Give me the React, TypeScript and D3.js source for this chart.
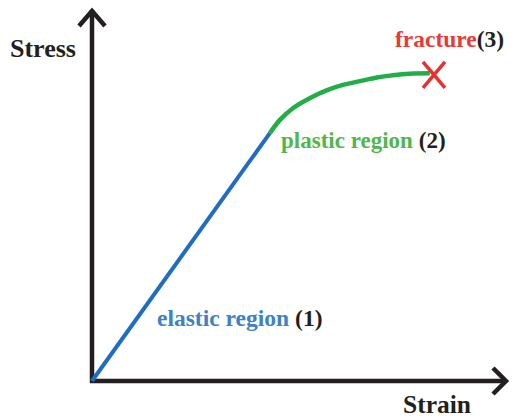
import React from "react";
import * as d3 from "d3";

// Stress–strain curve (normalised units, 0..1 on each axis)
const elasticStrain = [0, 0.43];
const elasticStress = [0, 0.667];
const plasticStrain = [0.43, 0.454, 0.486, 0.527, 0.568, 0.606, 0.647, 0.688, 0.727, 0.768, 0.816];
const plasticStress = [0.667, 0.702, 0.734, 0.761, 0.782, 0.796, 0.806, 0.816, 0.822, 0.826, 0.827];
const fracturePoint = [0.826, 0.823];
const axisLabels = ["Stress", "Strain"];
const regionLabels = ["elastic region", "plastic region", "fracture"];
const regionNumbers = ["(1)", "(2)", "(3)"];

const W = 512;
const H = 418;

export default function App() {
  const x = d3.scaleLinear().domain([0, 1]).range([92, 506]);
  const y = d3.scaleLinear().domain([0, 1]).range([381, 9]);

  const line = d3
    .line<[number, number]>()
    .x((d) => x(d[0]))
    .y((d) => y(d[1]));
  const curve = d3
    .line<[number, number]>()
    .x((d) => x(d[0]))
    .y((d) => y(d[1]))
    .curve(d3.curveCatmullRom.alpha(0.5));

  const elastic: [number, number][] = elasticStrain.map((s, i) => [s, elasticStress[i]]);
  const plastic: [number, number][] = plasticStrain.map((s, i) => [s, plasticStress[i]]);

  const ox = x(0);
  const oy = y(0);
  const yTop = y(1);
  const xEnd = x(1);
  const fx = x(fracturePoint[0]);
  const fy = y(fracturePoint[1]);
  const axisColor = "#231f20";
  const font = "'Liberation Serif', 'Times New Roman', serif";

  return (
    <svg
      width={W}
      height={H}
      style={{ position: "absolute", left: 0, top: 0, background: "#fff" }}
    >
      {/* axes */}
      <g stroke={axisColor} strokeWidth={4.5} fill="none">
        <line x1={ox} y1={oy + 2} x2={ox} y2={yTop + 1} />
        <line x1={ox - 2} y1={oy} x2={xEnd} y2={oy} />
        <polyline
          points={`${ox - 13},${yTop + 17} ${ox},${yTop + 2} ${ox + 13},${yTop + 17}`}
          strokeLinejoin="miter"
        />
        <polyline
          points={`${xEnd - 13},${oy - 13} ${xEnd},${oy} ${xEnd - 13},${oy + 13}`}
          strokeLinejoin="miter"
        />
      </g>

      {/* curve */}
      <path d={line(elastic) || ""} stroke="#1f6dc2" strokeWidth={4} fill="none" />
      <path d={curve(plastic) || ""} stroke="#22ae47" strokeWidth={4.5} fill="none" strokeLinecap="butt" />

      {/* fracture mark */}
      <g stroke="#e8302e" strokeWidth={3.5} strokeLinecap="butt">
        <line x1={fx - 11} y1={fy - 13} x2={fx + 11} y2={fy + 13} />
        <line x1={fx + 11} y1={fy - 13} x2={fx - 11} y2={fy + 13} />
      </g>

      <g fontFamily={font} fontWeight="bold">
        <text x={10} y={57} fontSize={26} fill={axisColor}>
          {axisLabels[0]}
        </text>
        <text x={403} y={413} fontSize={25.5} fill={axisColor}>
          {axisLabels[1]}
        </text>

        <text x={157} y={326} fontSize={23.5}>
          <tspan fill="#3d82c8">{regionLabels[0]}</tspan>
          <tspan fill={axisColor} dx={6}>{regionNumbers[0]}</tspan>
        </text>
        <text x={281} y={148} fontSize={23}>
          <tspan fill="#4fb74b">{regionLabels[1]}</tspan>
          <tspan fill={axisColor} dx={6}>{regionNumbers[1]}</tspan>
        </text>
        <text x={395} y={47} fontSize={23.5}>
          <tspan fill="#e83a36">{regionLabels[2]}</tspan>
          <tspan fill={axisColor}>{regionNumbers[2]}</tspan>
        </text>
      </g>
    </svg>
  );
}
